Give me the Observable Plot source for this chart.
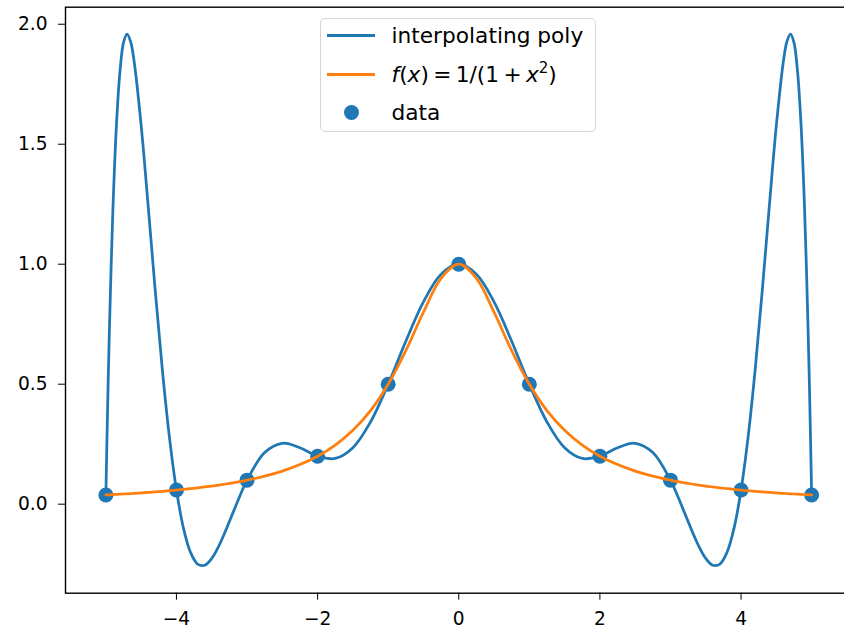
<!DOCTYPE html>
<html>
<head>
<meta charset="utf-8">
<script src="https://cdn.jsdelivr.net/npm/d3@7"></script>
<script src="https://cdn.jsdelivr.net/npm/@observablehq/plot@0.6"></script>
<style>
  html, body { margin: 0; padding: 0; background: white; overflow: hidden; }
  #wrap { position: relative; width: 844px; height: 632px; overflow: hidden; }
  #legend { position: absolute; left: 320px; top: 18px; width: 276px; height: 114px;
    border: 1.3px solid #d5d5d5; border-radius: 5px; background: rgba(255,255,255,0.8);
    font-family: "DejaVu Sans"; font-size: 21.7px; color: #000; box-sizing: border-box; }
  .row { position: absolute; left: 0; height: 0; }
  .sw { position: absolute; left: 6px; width: 48px; height: 2.75px; top: -1.4px; }
  .dt { position: absolute; left: 22.5px; width: 15px; height: 15px; top: -7.5px; border-radius: 50%; background: #1f77b4; }
  .lb { position: absolute; left: 70.5px; top: -14px; white-space: nowrap; line-height: 28px; }
  .lb i { font-family: "DejaVu Sans"; font-style: oblique; }
</style>
</head>
<body>
<div id="wrap"></div>
<script>
// x sample positions for the two curves
const xs = [-5,-4.975,-4.95,-4.9,-4.85,-4.8,-4.75,-4.7,-4.65,-4.6,-4.5,-4.4,-4.3,-4.2,-4.1,-4,
  -3.9,-3.8,-3.7,-3.6,-3.5,-3.4,-3.3,-3.2,-3.1,-3,-2.75,-2.5,-2.25,-2,-1.75,-1.5,-1.25,-1,-0.75,-0.5,-0.25,
  0,0.25,0.5,0.75,1,1.25,1.5,1.75,2,2.25,2.5,2.75,3,3.1,3.2,3.3,3.4,3.5,3.6,3.7,3.8,3.9,
  4,4.1,4.2,4.3,4.4,4.5,4.6,4.65,4.7,4.75,4.8,4.85,4.9,4.95,4.975,5];
// interpolating polynomial values
const polyVals = [0.0385,0.4072,0.7260,1.2303,1.5811,1.8045,1.9237,1.9590,1.9279,1.8460,1.5787,1.2402,0.8881,0.5605,0.2802,0.0588,
  -0.1007,-0.2013,-0.2496,-0.2546,-0.2262,-0.1743,-0.1083,-0.0363,0.0349,0.1,0.2156,0.2538,0.2350,0.2,0.1906,0.2353,0.3426,0.5,0.6790,0.8434,0.9586,
  1,0.9586,0.8434,0.6790,0.5,0.3426,0.2353,0.1906,0.2,0.2350,0.2538,0.2156,0.1,0.0349,-0.0363,-0.1083,-0.1743,-0.2262,-0.2546,-0.2496,-0.2013,-0.1007,
  0.0588,0.2802,0.5605,0.8881,1.2402,1.5787,1.8460,1.9279,1.9590,1.9237,1.8045,1.5811,1.2303,0.7260,0.4072,0.0385];
// f(x) = 1/(1+x^2) values
const fVals = [0.0385,0.0388,0.0392,0.0400,0.0408,0.0416,0.0424,0.0433,0.0442,0.0451,0.0471,0.0491,0.0513,0.0536,0.0561,0.0588,
  0.0617,0.0648,0.0681,0.0716,0.0755,0.0796,0.0841,0.0890,0.0942,0.1,0.1168,0.1379,0.1649,0.2,0.2462,0.3077,0.3902,0.5,0.64,0.8,0.9412,
  1,0.9412,0.8,0.64,0.5,0.3902,0.3077,0.2462,0.2,0.1649,0.1379,0.1168,0.1,0.0942,0.0890,0.0841,0.0796,0.0755,0.0716,0.0681,0.0648,0.0617,
  0.0588,0.0561,0.0536,0.0513,0.0491,0.0471,0.0451,0.0442,0.0433,0.0424,0.0416,0.0408,0.0400,0.0392,0.0388,0.0385];
// data points
const dataX = [-5,-4,-3,-2,-1,0,1,2,3,4,5];
const dataY = [0.0385,0.0588,0.1,0.2,0.5,1,0.5,0.2,0.1,0.0588,0.0385];
// ticks
const xTicks = [-4,-2,0,2,4];
const yTicks = [0,0.5,1,1.5,2];
const legendLabels = ["interpolating poly", "f(x) = 1/(1 + x²)", "data"];

const curves = xs.map((x, i) => ({x, p: polyVals[i], f: fVals[i]}));
const pts = dataX.map((x, i) => ({x, y: dataY[i]}));

const chart = Plot.plot({
  width: 852, height: 632,
  marginLeft: 65, marginRight: 0.5, marginTop: 6.7, marginBottom: 39.3,
  x: {domain: [-5.572, 5.572], ticks: xTicks, tickSize: 7, tickPadding: 12, label: null},
  y: {domain: [-0.371, 2.071], ticks: yTicks, tickFormat: d3.format(".1f"), tickSize: 7, tickPadding: 11, label: null},
  style: {fontFamily: "DejaVu Sans", fontSize: "18.6px", color: "black", background: "white", maxWidth: "none"},
  marks: [
    Plot.dot(pts, {x: "x", y: "y", r: 7.5, fill: "#1f77b4", stroke: "none"}),
    Plot.line(curves, {x: "x", y: "p", stroke: "#1f77b4", strokeWidth: 2.75, curve: "catmull-rom"}),
    Plot.line(curves, {x: "x", y: "f", stroke: "#ff7f0e", strokeWidth: 2.75, curve: "catmull-rom"}),
    Plot.frame({stroke: "black", strokeWidth: 1.4})
  ]
});
const wrap = document.getElementById("wrap");
wrap.appendChild(chart);

const legend = document.createElement("div");
legend.id = "legend";
legend.innerHTML = `
  <div class="row" style="top:16.5px"><div class="sw" style="background:#1f77b4"></div><div class="lb">${legendLabels[0]}</div></div>
  <div class="row" style="top:55.5px"><div class="sw" style="background:#ff7f0e"></div><div class="lb"><i>f</i>(<i>x</i>)&#8201;=&#8201;1/(1&#8201;+&#8201;<i>x</i><sup style="font-size:15px;vertical-align:9px;line-height:0">2</sup>)</div></div>
  <div class="row" style="top:93.5px"><div class="dt"></div><div class="lb">${legendLabels[2]}</div></div>`;
wrap.appendChild(legend);
</script>
</body>
</html>
